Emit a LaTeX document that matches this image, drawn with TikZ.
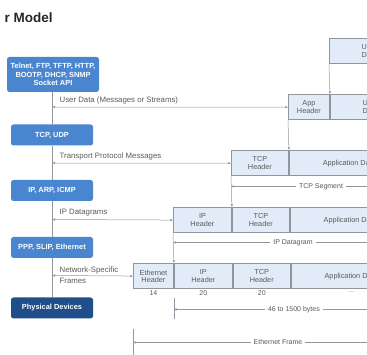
\documentclass[tikz,border=0pt]{standalone}
\usepackage{fontspec}
\setmainfont{Liberation Sans}
\usetikzlibrary{arrows.meta,positioning}
\usepackage{xcolor}

\definecolor{layerblue}{HTML}{4A86D0}
\definecolor{layerdark}{HTML}{1F4E8A}
\definecolor{pktfill}{HTML}{E2ECF8}
\definecolor{pktline}{HTML}{8F969D}
\definecolor{txtgray}{HTML}{5A5A5A}

\tikzset{
    layer/.style={rounded corners=2.5pt, fill=layerblue, text=white, align=center,
        font=\fontsize{7.4}{8.8}\selectfont\bfseries, minimum width=82pt, minimum height=21pt, inner sep=1pt},
    pkt/.style={draw=pktline, line width=0.9pt, fill=pktfill, text=txtgray, align=center,
        font=\fontsize{7.3}{7.6}\selectfont, minimum height=25.5pt, inner sep=0pt},
    conn/.style={draw=pktline, line width=0.5pt},
    twoway/.style={{Latex[length=2.6pt,width=2.6pt]}-{Latex[length=2.6pt,width=2.6pt]}},
    oneway/.style={-{Latex[length=2.6pt,width=2.6pt]}},
    lbl/.style={text=txtgray, font=\fontsize{7}{8}\selectfont, inner sep=1pt},
    sidelbl/.style={text=txtgray, font=\fontsize{7.8}{8.5}\selectfont, inner sep=1pt},
}

\begin{document}
\begin{tikzpicture}[x=1pt, y=-1pt]
    \useasboundingbox (0,0) rectangle (367,355);
    \clip (0,0) rectangle (367,355);

    \node[anchor=west, font=\fontsize{13.5}{15}\selectfont\bfseries, text=black!85] (title) at (1,17.5) {r Model};

    \node[layer, minimum width=92pt, minimum height=35pt] (api) at (53,74.5) {Telnet, FTP, TFTP, HTTP,\\BOOTP, DHCP, SNMP\\Socket API};
    \node[layer] (tcp) at (52,135) {TCP, UDP};
    \node[layer] (ip) at (52,190.5) {IP, ARP, ICMP};
    \node[layer] (ppp) at (52,247.5) {PPP, SLIP, Ethernet};
    \node[layer, fill=layerdark] (phys) at (52,308) {Physical Devices};

    \draw[conn] (tcp.north) -- (tcp.north |- api.south);
    \draw[conn] (tcp.south) -- (ip.north);
    \draw[conn] (ip.south) -- (ppp.north);
    \draw[conn] (ppp.south) -- (phys.north);

    \node[pkt, anchor=north west, minimum width=80pt] (ud0) at (329,38) {User\\Data};

    \node[pkt, anchor=north west, minimum width=41pt] (apph) at (288,94) {App\\Header};
    \node[pkt, minimum width=80pt, right=0pt of apph] (ud1) {User\\Data};

    \node[pkt, anchor=north west, minimum width=57pt] (tcph2) at (231,150) {TCP\\Header};
    \node[pkt, minimum width=120pt, right=0pt of tcph2] (ad2) {Application Data};

    \node[pkt, anchor=north west, minimum width=58pt] (iph3) at (173,207) {IP\\Header};
    \node[pkt, minimum width=57pt, right=0pt of iph3] (tcph3) {TCP\\Header};
    \node[pkt, minimum width=120pt, right=0pt of tcph3] (ad3) {Application Data};

    \node[pkt, anchor=north west, minimum width=40pt] (ethh4) at (133,263) {Ethernet\\Header};
    \node[pkt, minimum width=58pt, right=0pt of ethh4] (iph4) {IP\\Header};
    \node[pkt, minimum width=57pt, right=0pt of iph4] (tcph4) {TCP\\Header};
    \node[pkt, minimum width=120pt, right=0pt of tcph4] (ad4) {Application Data};

    \node[lbl, below=0.5pt of ethh4] (n14) {14};
    \node[lbl, below=0.5pt of iph4] (n20a) {20};
    \node[lbl, below=0.5pt of tcph4] (n20b) {20};
    \node[lbl, below=0.5pt of ad4, text=txtgray!40] (nad) {---};

    \coordinate (s1) at (52.5,107);
    \coordinate (s2) at (52.5,163);
    \coordinate (s3) at (52.5,219.5);
    \coordinate (s4) at (52.5,275.5);

    \draw[conn, twoway] (s1) -- (apph);
    \draw[conn, twoway] (s2) -- (tcph2);
    \draw[conn, twoway] (s3) -- (iph3);
    \draw[conn, twoway] (s4) -- (ethh4);

    \node[sidelbl, anchor=south west] (l1) at ([xshift=6pt,yshift=2pt]s1) {User Data (Messages or Streams)};
    \node[sidelbl, anchor=south west] (l2) at ([xshift=6pt,yshift=2pt]s2) {Transport Protocol Messages};
    \node[sidelbl, anchor=south west] (l3) at ([xshift=6pt,yshift=2pt]s3) {IP Datagrams};
    \node[sidelbl, anchor=west, align=left, font=\fontsize{7.8}{11}\selectfont] (l4) at ([xshift=6pt]s4) {Network-Specific\\Frames};

    \draw[conn, oneway] (ud0.south west) -- (ud1.north west);
    \draw[conn, oneway] (apph.south west) -- (ad2.north west);
    \draw[conn, oneway] (tcph2.south west) -- (tcph3.north west);
    \draw[conn, oneway] (iph3.south west) -- (iph4.north west);

    \coordinate (segl) at ([yshift=-10pt]tcph2.south west);
    \coordinate (dgl) at ([yshift=-9pt]iph3.south west);
    \coordinate (bytl) at ([yshift=-20pt]iph4.south west);
    \coordinate (frl) at ([yshift=-53pt]ethh4.south west);

    \draw[conn, twoway] (segl) -- ++(200,0) node[lbl, pos=0.45, fill=white, inner xsep=3pt] {TCP Segment};
    \draw[conn, twoway] (dgl) -- ++(250,0) node[lbl, pos=0.48, fill=white, inner xsep=3pt] {IP Datagram};
    \draw[conn, twoway] (bytl) -- ++(250,0) node[lbl, pos=0.48, fill=white, inner xsep=3pt] {46 to 1500 bytes};
    \draw[conn, twoway] (frl) -- ++(290,0) node[lbl, pos=0.5, fill=white, inner xsep=3pt] {Ethernet Frame};

    \draw[conn, line width=0.8pt] ([yshift=-9pt]iph4.south west) -- ++(0,21);
    \draw[conn, line width=0.8pt] ([yshift=-40pt]ethh4.south west) -- ++(0,30);

\end{tikzpicture}
\end{document}
